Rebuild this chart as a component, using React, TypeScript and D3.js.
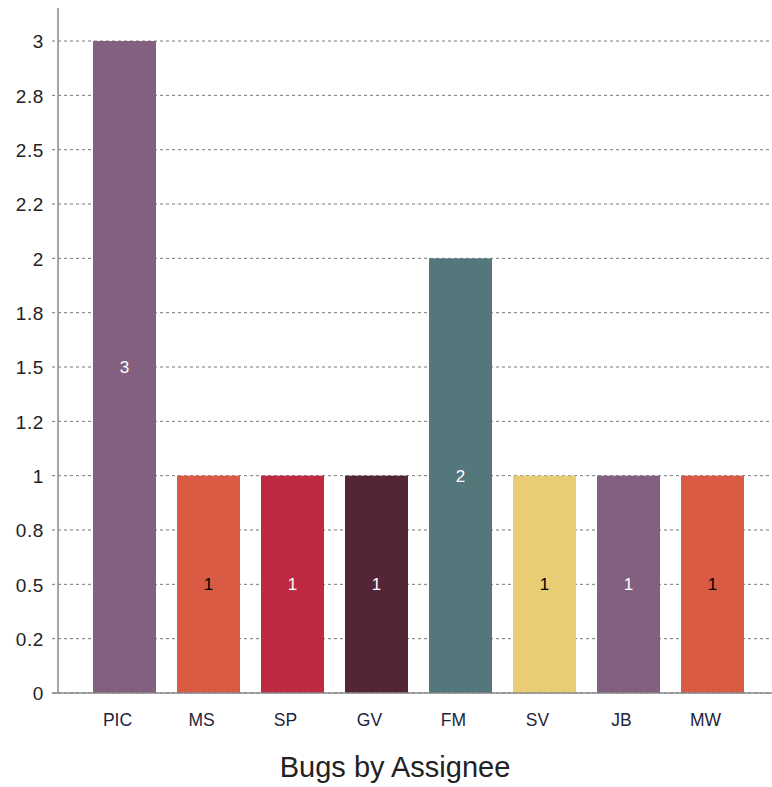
import React from "react";
import * as d3 from "d3";

const categories = ["PIC", "MS", "SP", "GV", "FM", "SV", "JB", "MW"];
const values = [3, 1, 1, 1, 2, 1, 1, 1];
const barColors = ["#835f80", "#d95b43", "#c02942", "#542437", "#53777a", "#e9cd74", "#835f80", "#d95b43"];
const labelColors = ["#ffffff", "#000000", "#ffffff", "#ffffff", "#ffffff", "#000000", "#ffffff", "#000000"];
const tickValues = [0, 0.25, 0.5, 0.75, 1, 1.25, 1.5, 1.75, 2, 2.25, 2.5, 2.75, 3];
const tickLabels = ["0", "0.2", "0.5", "0.8", "1", "1.2", "1.5", "1.8", "2", "2.2", "2.5", "2.8", "3"];
const title = "Bugs by Assignee";

export default function App() {
  const W = 772, H = 787;
  const axisX = 58;
  const x = d3.scaleBand<string>().domain(categories).range([82.5, 754.5]).paddingInner(0.25).paddingOuter(0.125);
  const y = d3.scaleLinear().domain([0, 3.152]).range([693, 8]);
  const font = "'Liberation Sans', Arial, sans-serif";
  return (
    <svg width={W} height={H} style={{ position: "absolute", left: 0, top: 0 }} fontFamily={font}>
      <rect width={W} height={H} fill="#fff" />
      {tickValues.map((t, i) => (
        <g key={i}>
          <line x1={52} x2={W} y1={y(t)} y2={y(t)} stroke="#777" strokeWidth={1} strokeDasharray="3,3" />
          <text x={44} y={y(t)} dy="0.38em" textAnchor="end" fontSize={19} letterSpacing={0.6} fill="#222">{tickLabels[i]}</text>
        </g>
      ))}
      {categories.map((c, i) => (
        <g key={c}>
          <rect x={x(c)} y={y(values[i])} width={x.bandwidth()} height={y(0) - y(values[i])} fill={barColors[i]} />
          <text x={(x(c) as number) + x.bandwidth() / 2} y={y(values[i] / 2)} dy="0.36em" textAnchor="middle" fontSize={17} fill={labelColors[i]}>{values[i]}</text>
          <text x={(x(c) as number) + x.bandwidth() / 2 - 7} y={726} textAnchor="middle" fontSize={17.5} fill="#1f2440">{c}</text>
        </g>
      ))}
      <line x1={axisX} x2={axisX} y1={8} y2={693} stroke="#888" strokeWidth={1.5} />
      <line x1={52} x2={W} y1={693} y2={693} stroke="#888" strokeWidth={1.5} />
      <text x={395} y={777} textAnchor="middle" fontSize={29} fill="#222">{title}</text>
    </svg>
  );
}
